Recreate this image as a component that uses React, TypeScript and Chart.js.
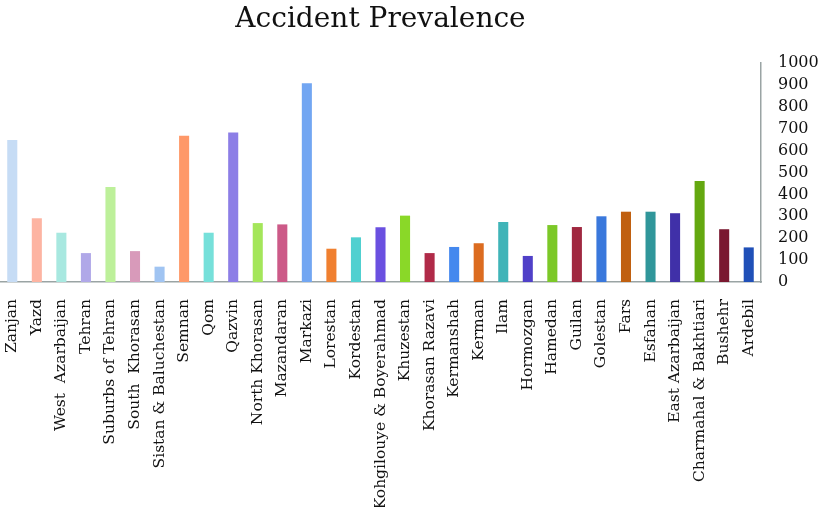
import React, { useEffect, useRef } from "react";
import { Chart, registerables } from "chart.js";

Chart.register(...registerables);

const title = "Accident Prevalence";

const provinces = [
  "Zanjan", "Yazd", "West  Azarbaijan", "Tehran", "Suburbs of Tehran", "South  Khorasan",
  "Sistan & Baluchestan", "Semnan", "Qom", "Qazvin", "North Khorasan", "Mazandaran",
  "Markazi", "Lorestan", "Kordestan", "Kohgilouye & Boyerahmad", "Khuzestan",
  "Khorasan Razavi", "Kermanshah", "Kerman", "Ilam", "Hormozgan", "Hamedan", "Guilan",
  "Golestan", "Fars", "Esfahan", "East Azarbaijan", "Charmahal & Bakhtiari", "Bushehr", "Ardebil",
];

const prevalence = [
  648, 291, 225, 132, 434, 141, 70, 668, 225, 683, 269, 263,
  907, 152, 204, 250, 303, 132, 160, 177, 274, 119, 260, 251,
  300, 321, 321, 314, 461, 241, 158,
];

const barColors = [
  "#c6dcf5", "#fdb4a2", "#a8e8e0", "#b0a8e8", "#bdf09a", "#d89aba",
  "#a0c4f2", "#fe9868", "#76e0da", "#8c7ee6", "#a4e65a", "#cc5a88",
  "#72a6f2", "#f08030", "#50d0d0", "#6a50e0", "#8ad828", "#b02a48",
  "#4488ee", "#dc6c20", "#40b4b8", "#5040c8", "#7cc828", "#a02840",
  "#3a78dc", "#c06010", "#30969a", "#4030a8", "#64a810", "#7a1830", "#2050b8",
];

const yTicks = [0, 100, 200, 300, 400, 500, 600, 700, 800, 900, 1000];

const FONT = "'DejaVu Serif', serif";

export default function App() {
  const ref = useRef<HTMLCanvasElement | null>(null);

  useEffect(() => {
    if (!ref.current) return;
    const titlePlugin = {
      id: "centeredTitle",
      afterDraw(chart: any) {
        const { ctx, chartArea } = chart;
        ctx.save();
        ctx.font = `28px ${FONT}`;
        ctx.fillStyle = "#111";
        ctx.textAlign = "center";
        ctx.textBaseline = "middle";
        ctx.fillText(title, (chartArea.left + chartArea.right) / 2, 20);
        ctx.restore();
      },
    };
    const chart = new Chart(ref.current, {
      type: "bar",
      data: {
        labels: provinces,
        datasets: [
          {
            data: prevalence,
            backgroundColor: barColors,
            borderWidth: 0,
            barPercentage: 0.41,
            categoryPercentage: 1,
          },
        ],
      },
      options: {
        animation: false,
        responsive: false,
        maintainAspectRatio: false,
        layout: { padding: { top: 63, left: 0, right: 0, bottom: 0 } },
        plugins: {
          legend: { display: false },
          title: { display: false },
          tooltip: { enabled: false },
        },
        scales: {
          x: {
            grid: { display: false },
            border: { display: true, color: "#9aa4a4", width: 1.5 },
            ticks: {
              autoSkip: false,
              maxRotation: 90,
              minRotation: 90,
              padding: 9,
              color: "#111",
              font: { family: FONT, size: 15.5 },
            },
            afterFit(scale: any) {
              scale.height = 225;
            },
          },
          y: {
            position: "right",
            min: 0,
            max: 1000,
            afterBuildTicks(scale: any) {
              scale.ticks = yTicks.map((v) => ({ value: v }));
            },
            grid: { display: false },
            border: { display: true, color: "#9aa4a4", width: 1.5 },
            ticks: {
              autoSkip: false,
              padding: 9,
              color: "#111",
              font: { family: FONT, size: 16 },
              callback: (v: any) => String(v),
            },
            afterFit(scale: any) {
              scale.width = 61;
            },
          },
        },
      },
      plugins: [titlePlugin],
    });
    return () => chart.destroy();
  }, []);

  return (
    <div style={{ position: "fixed", left: 0, top: 0, width: 822, height: 507, background: "#fff" }}>
      <canvas ref={ref} width={822} height={507} style={{ display: "block" }} />
    </div>
  );
}
